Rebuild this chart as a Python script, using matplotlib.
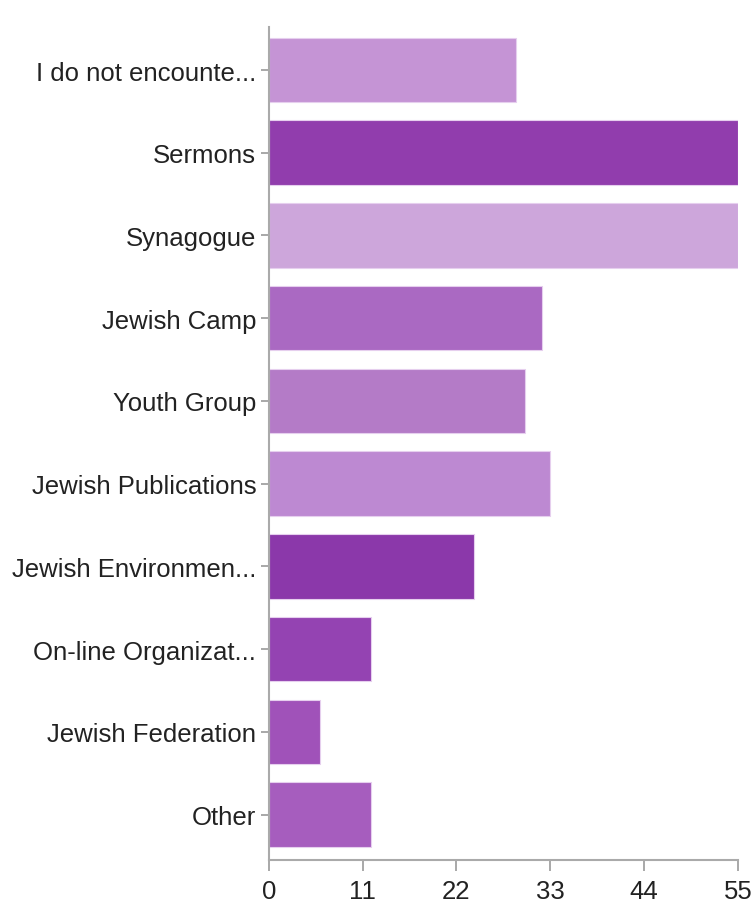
import matplotlib
matplotlib.use("Agg")
import matplotlib.pyplot as plt
from matplotlib import font_manager

categories = ["I do not encounte...", "Sermons", "Synagogue", "Jewish Camp",
              "Youth Group", "Jewish Publications", "Jewish Environmen...",
              "On-line Organizat...", "Jewish Federation", "Other"]
values = [29, 55, 55, 32, 30, 33, 24, 12, 6, 12]
bar_colors = ["#C594D5", "#913DAD", "#CDA6DB", "#AA69C2", "#B47BC7",
              "#BD89D2", "#8B38AA", "#9443B2", "#A052B9", "#A65DBE"]
x_ticks = [0, 11, 22, 33, 44, 55]

names = {f.name for f in font_manager.fontManager.ttflist}
if "Liberation Sans Narrow" in names:
    fam, fs = "Liberation Sans Narrow", 22.5
else:
    fam, fs = "Liberation Sans", 18.5
print(fam)
plt.rcParams["font.family"] = [fam, "DejaVu Sans"]

fig = plt.figure(figsize=(7.53, 9.03), dpi=100)
ax = fig.add_axes([0.357, 0.0465, 0.623, 0.9225])

pos = list(range(len(categories)))
ax.barh(pos, values, height=0.78, color=bar_colors, edgecolor="#E6CFEE", linewidth=0.8)

ax.set_xlim(0, 55)
ax.set_ylim(9.55, -0.52)
ax.set_yticks(pos)
ax.set_yticklabels(categories)
ax.set_xticks(x_ticks)
ax.set_xticklabels([str(t) for t in x_ticks])

for s in ["top", "right"]:
    ax.spines[s].set_visible(False)
for s in ["left", "bottom"]:
    ax.spines[s].set_color("#AAAAAA")
    ax.spines[s].set_linewidth(1.5)

ax.tick_params(axis="y", length=6, width=1.2, color="#999999", pad=3,
               labelsize=fs, labelcolor="#222222")
ax.tick_params(axis="x", length=8, width=1.2, color="#999999", pad=6,
               labelsize=fs, labelcolor="#222222")

fig.savefig("out.png", dpi=100)
